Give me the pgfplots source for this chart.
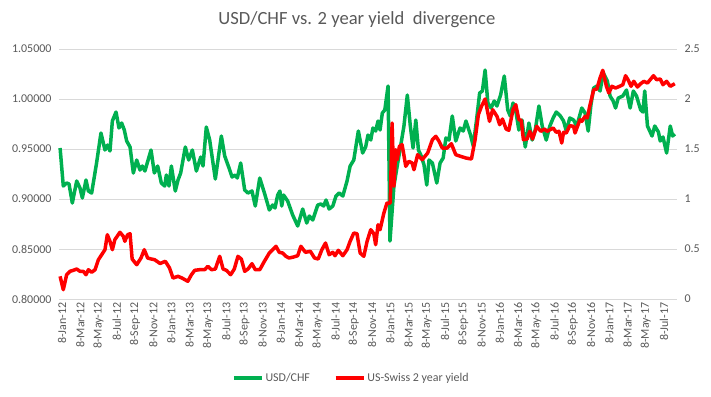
\documentclass[border=0pt]{standalone}
\usepackage{pgfplots}
\pgfplotsset{compat=1.18}
\usepackage{fontspec}
\setmainfont{Carlito}
\definecolor{xlgreen}{HTML}{00B050}
\definecolor{xlred}{HTML}{FF0000}
\definecolor{txtgray}{HTML}{595959}
\definecolor{gridgray}{HTML}{D9D9D9}
\begin{document}
\begin{tikzpicture}[x=1bp,y=1bp]
\useasboundingbox (0,0) rectangle (711,-396);
\pgfplotsset{
  base/.style={
    at={(59bp,-299bp)}, anchor=south west,
    scale only axis, width=618bp, height=250bp,
    xmin=-0.22, xmax=67.54,
    axis line style={draw=none},
    tick style={draw=none},
    ticklabel style={font=\fontsize{12}{14}\selectfont, text=txtgray},
    /pgf/number format/assume math mode=true,
    clip=false,
  }
}
\begin{axis}[base,
  ymin=0.8, ymax=1.05,
  ytick={0.8,0.85,0.9,0.95,1.0,1.05},
  yticklabel style={xshift=-4bp, /pgf/number format/.cd, fixed, fixed zerofill, precision=5},
  ymajorgrids, grid style={gridgray, line width=0.75bp},
  xtick={0,2,...,66},
  xticklabels={8-Jan-12,8-Mar-12,8-May-12,8-Jul-12,8-Sep-12,8-Nov-12,
               8-Jan-13,8-Mar-13,8-May-13,8-Jul-13,8-Sep-13,8-Nov-13,
               8-Jan-14,8-Mar-14,8-May-14,8-Jul-14,8-Sep-14,8-Nov-14,
               8-Jan-15,8-Mar-15,8-May-15,8-Jul-15,8-Sep-15,8-Nov-15,
               8-Jan-16,8-Mar-16,8-May-16,8-Jul-16,8-Sep-16,8-Nov-16,
               8-Jan-17,8-Mar-17,8-May-17,8-Jul-17},
  x tick label style={rotate=90, anchor=east, yshift=-1bp},
  title={USD/CHF vs. 2 year yield\ \ divergence},
  title style={at={(0.482,1.092)}, anchor=center, font=\fontsize{18.67}{22}\selectfont, text=txtgray},
  legend columns=2,
  legend style={at={(0.473,-0.315)}, anchor=center, draw=none, fill=none,
    font=\fontsize{12}{14}\selectfont, text=txtgray,
    /tikz/every even column/.append style={column sep=22bp}},
  legend image code/.code={\draw[#1, line width=3.5bp] (0bp,0bp) -- (28bp,0bp);},
]
\addplot[xlgreen, line width=3.5bp, line join=round] coordinates {
(-0.1,0.951)(0.25,0.913)(0.62,0.916)(0.88,0.915)(1.24,0.896)(1.72,0.918)(2.08,0.911)(2.34,0.901)(2.74,0.919)(3.0,0.908)
(3.36,0.906)(3.9,0.936)(4.38,0.966)(4.82,0.949)(5.1,0.954)(5.37,0.948)(5.63,0.978)(6.03,0.987)(6.36,0.971)(6.65,0.976)
(6.94,0.969)(7.2,0.958)(7.57,0.952)(7.93,0.926)(8.3,0.939)(8.66,0.929)(8.92,0.933)(9.2,0.928)(9.87,0.949)(10.23,0.926)
(10.6,0.933)(11.0,0.916)(11.37,0.913)(11.55,0.924)(11.84,0.913)(12.1,0.933)(12.53,0.908)(12.83,0.919)(13.12,0.926)(13.63,0.952)
(14.0,0.939)(14.4,0.949)(14.84,0.928)(15.32,0.942)(15.57,0.933)(15.93,0.972)(16.3,0.959)(16.92,0.920)(17.58,0.963)(17.95,0.943)
(18.5,0.929)(18.75,0.922)(19.1,0.924)(19.33,0.921)(19.7,0.936)(20.14,0.909)(20.5,0.906)(20.94,0.908)(21.3,0.893)(21.79,0.921)
(22.37,0.904)(22.84,0.889)(23.2,0.894)(23.46,0.891)(23.76,0.904)(24.0,0.908)(24.2,0.893)(24.4,0.904)(24.85,0.898)(25.4,0.884)
(25.95,0.873)(26.5,0.890)(26.94,0.876)(27.23,0.883)(27.6,0.879)(28.15,0.894)(28.5,0.895)(28.8,0.893)(29.06,0.899)(29.4,0.890)
(29.8,0.893)(30.15,0.903)(30.5,0.906)(30.9,0.903)(31.36,0.918)(31.7,0.933)(32.1,0.939)(32.6,0.968)(33.07,0.946)(33.4,0.952)
(33.66,0.964)(33.96,0.959)(34.2,0.971)(34.5,0.968)(34.76,0.978)(34.98,0.969)(35.23,0.986)(35.5,0.989)(35.86,1.013)(36.07,0.858)
(36.5,0.913)(36.86,0.933)(37.2,0.951)(37.6,0.973)(37.97,1.004)(38.3,0.973)(38.6,0.951)(38.9,0.979)(39.19,0.949)(39.5,0.943)
(39.8,0.934)(40.1,0.914)(40.35,0.939)(40.72,0.936)(41.2,0.916)(41.56,0.936)(41.9,0.941)(42.2,0.961)(42.54,0.959)(42.9,0.983)
(43.28,0.958)(43.75,0.971)(44.1,0.968)(44.4,0.978)(44.9,0.964)(45.2,0.953)(45.56,0.979)(45.9,1.006)(46.2,1.008)(46.5,1.029)
(46.8,0.996)(47.15,0.991)(47.5,0.998)(47.8,0.993)(48.2,1.004)(48.6,1.023)(48.98,0.989)(49.26,0.983)(49.56,0.996)(49.9,0.986)
(50.2,0.969)(50.55,0.979)(50.9,0.952)(51.3,0.976)(51.66,0.959)(52.0,0.969)(52.4,0.993)(52.76,0.973)(53.2,0.959)(53.6,0.973)
(53.96,0.981)(54.3,0.987)(54.75,0.983)(55.1,0.978)(55.4,0.968)(55.78,0.981)(56.2,0.979)(56.55,0.973)(57.1,0.991)(57.46,0.986)
(57.8,0.968)(58.1,0.994)(58.4,1.011)(58.75,1.013)(59.1,1.008)(59.46,1.026)(59.9,1.018)(60.2,1.003)(60.54,0.998)(60.8,0.991)
(61.1,1.001)(61.6,1.003)(62.0,1.009)(62.4,0.991)(62.75,1.008)(63.1,1.003)(63.56,0.989)(63.8,0.987)(64.0,1.008)(64.3,0.973)
(64.8,0.963)(65.1,0.973)(65.5,0.967)(65.7,0.958)(66.0,0.962)(66.4,0.946)(66.8,0.973)(67.06,0.963)(67.3,0.965)
};
\addlegendentry{USD/CHF}
\addlegendimage{xlred}
\addlegendentry{US-Swiss 2 year yield}
\end{axis}
\begin{axis}[base,
  ymin=0, ymax=2.5,
  ytick={0,0.5,1,1.5,2,2.5},
  axis y line*=right,
  axis x line=none,
  yticklabel style={anchor=west, xshift=4bp},
]
\addplot[xlred, line width=3.5bp, line join=round] coordinates {
(-0.1,0.227)(0.25,0.093)(0.62,0.243)(0.98,0.277)(1.35,0.287)(1.72,0.300)(2.08,0.277)(2.45,0.277)(2.74,0.243)(3.0,0.293)
(3.36,0.267)(3.73,0.293)(4.1,0.393)(4.46,0.443)(4.82,0.493)(5.08,0.643)(5.37,0.577)(5.63,0.493)(5.9,0.593)(6.46,0.667)
(6.83,0.627)(7.0,0.577)(7.3,0.643)(7.57,0.653)(7.8,0.400)(8.3,0.343)(8.77,0.410)(9.13,0.493)(9.5,0.410)(9.9,0.400)
(10.27,0.393)(10.86,0.355)(11.44,0.377)(11.9,0.31)(12.28,0.21)(12.83,0.227)(13.26,0.21)(13.9,0.177)(14.3,0.243)(14.66,0.287)
(15.2,0.293)(15.75,0.293)(16.1,0.327)(16.5,0.293)(16.92,0.30)(17.4,0.427)(17.77,0.30)(18.13,0.287)(18.6,0.243)(19.0,0.30)
(19.4,0.427)(19.77,0.40)(20.14,0.277)(20.5,0.30)(20.94,0.353)(21.3,0.293)(21.79,0.293)(22.3,0.377)(22.84,0.46)(23.57,0.527)
(23.93,0.467)(24.3,0.46)(24.66,0.427)(25.0,0.41)(25.5,0.42)(25.95,0.433)(26.3,0.527)(26.8,0.467)(27.34,0.477)(27.8,0.41)
(28.2,0.40)(28.6,0.493)(29.0,0.56)(29.4,0.443)(29.8,0.467)(30.04,0.433)(30.4,0.487)(30.9,0.433)(31.36,0.493)(31.7,0.577)
(32.1,0.66)(32.45,0.653)(32.8,0.46)(33.2,0.427)(33.56,0.577)(33.96,0.693)(34.3,0.653)(34.5,0.543)(34.76,0.743)(34.98,0.693)
(35.4,0.86)(35.74,0.96)(36.1,0.96)(36.3,1.76)(36.5,1.127)(36.7,1.493)(36.86,1.393)(37.1,1.527)(37.4,1.543)(37.8,1.327)
(38.15,1.377)(38.5,1.36)(38.7,1.293)(39.1,1.443)(39.6,1.393)(40.2,1.46)(40.72,1.593)(41.1,1.627)(41.45,1.577)(41.8,1.51)
(42.35,1.51)(42.8,1.553)(43.28,1.443)(43.8,1.427)(44.4,1.41)(45.0,1.40)(45.4,1.593)(45.76,1.843)(46.1,1.927)(46.5,2.0)
(46.98,1.777)(47.33,1.893)(47.8,1.827)(48.1,1.743)(48.4,1.80)(48.8,1.70)(49.1,1.687)(49.56,1.893)(49.86,1.943)(50.2,1.793)
(50.46,1.787)(50.7,1.593)(51.1,1.60)(51.4,1.677)(51.7,1.60)(52.16,1.727)(52.6,1.677)(53.0,1.70)(53.3,1.677)(53.96,1.71)
(54.3,1.667)(54.6,1.677)(54.9,1.56)(55.1,1.667)(55.4,1.66)(55.78,1.733)(56.2,1.727)(56.36,1.66)(56.9,1.793)(57.1,1.777)
(57.46,1.827)(57.7,1.81)(57.97,1.927)(58.4,2.093)(58.75,2.10)(59.1,2.21)(59.4,2.287)(59.8,2.127)(60.07,2.06)(60.4,2.127)
(60.8,2.11)(61.25,2.127)(61.6,2.143)(61.9,2.233)(62.2,2.187)(62.5,2.127)(62.8,2.177)(63.2,2.12)(63.56,2.153)(63.9,2.177)
(64.3,2.16)(64.6,2.193)(64.96,2.233)(65.3,2.193)(65.7,2.20)(66.0,2.143)(66.4,2.177)(66.8,2.127)(67.3,2.153)
};
\end{axis}
\end{tikzpicture}
\end{document}
